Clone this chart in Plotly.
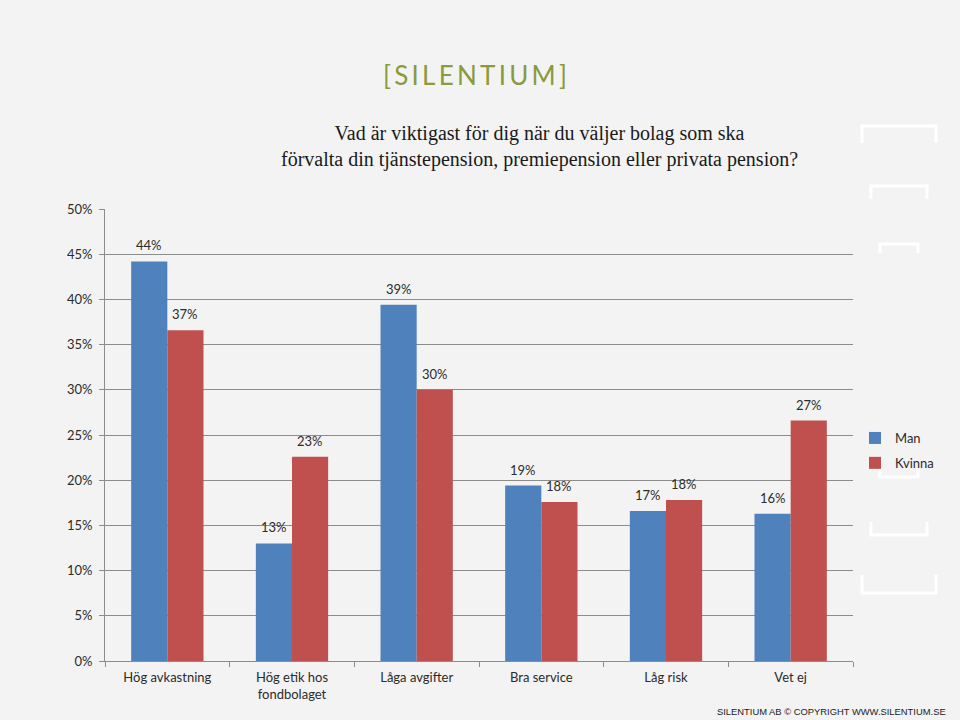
import plotly.graph_objects as go

categories = ["Hög avkastning", "Hög etik hos<br>fondbolaget", "Låga avgifter",
              "Bra service", "Låg risk", "Vet ej"]
man = [0.442, 0.130, 0.394, 0.194, 0.166, 0.163]
kvinna = [0.366, 0.226, 0.300, 0.176, 0.178, 0.266]
series_names = ["Man", "Kvinna"]
y_ticks = [0, 0.05, 0.10, 0.15, 0.20, 0.25, 0.30, 0.35, 0.40, 0.45, 0.50]

W, H = 960, 720
L, R, T, B = 105, 853, 209, 661
BG = "#f3f3f3"
TXT = "#2b2b2b"
GRID = "#8c8c8c"
FONT = "Lato, Open Sans, sans-serif"

fig = go.Figure()
for name, vals, col, grp in [(series_names[0], man, "#4F81BD", "m"),
                             (series_names[1], kvinna, "#C0504D", "k")]:
    fig.add_trace(go.Bar(
        x=categories, y=vals, name=name, legendgroup=grp,
        marker=dict(color=col, line=dict(width=0)),
    ))


def to_paper_x(x):
    return (x - L) / (R - L)


def to_paper_y(y):
    return (B - y) / (B - T)


white = dict(color="white", width=3)


def bracket_p(x0, x1, ybase, yleg):
    return dict(type="path", xref="paper", yref="paper", layer="below",
                path=(f"M {to_paper_x(x0)} {to_paper_y(yleg)} L {to_paper_x(x0)} {to_paper_y(ybase)} "
                      f"L {to_paper_x(x1)} {to_paper_y(ybase)} L {to_paper_x(x1)} {to_paper_y(yleg)}"),
                line=white)


shapes = [
    bracket_p(862, 936, 126, 143),
    bracket_p(871, 927, 186, 199),
    bracket_p(880, 918, 244, 253),
    bracket_p(880, 918, 477, 468),
    bracket_p(871, 927, 535, 522),
    bracket_p(862, 936, 593, 575),
]

annotations = [
    dict(text="[\u2009S\u2009I\u2009L\u2009E\u2009N\u2009T\u2009I\u2009U\u2009M\u2009]",
         xref="paper", yref="paper",
         x=to_paper_x(475), y=to_paper_y(75), xanchor="center", yanchor="middle",
         showarrow=False, font=dict(family="Lato, sans-serif", size=26, color="#8a9a3c")),
    dict(text="Vad är viktigast för dig när du väljer bolag som ska<br>förvalta din tjänstepension, premiepension eller privata pension?",
         xref="paper", yref="paper", x=to_paper_x(539), y=to_paper_y(146),
         xanchor="center", yanchor="middle", showarrow=False, align="center",
         font=dict(family="Liberation Serif, serif", size=20, color="#1a1a1a")),
    dict(text="SILENTIUM AB © COPYRIGHT WWW.SILENTIUM.SE", xref="paper", yref="paper",
         x=to_paper_x(948), y=to_paper_y(711), xanchor="right", yanchor="middle",
         showarrow=False, font=dict(family="Liberation Sans, Arial, sans-serif", size=9.4, color="#222222")),
]

# value labels above each bar
for vals, shift in [(man, -18), (kvinna, 18)]:
    for c, v in zip(categories, vals):
        annotations.append(dict(
            x=c, y=v, xref="x", yref="y", text=f"{round(v * 100)}%",
            showarrow=False, xanchor="center", yanchor="bottom",
            xshift=shift, yshift=6,
            font=dict(family=FONT, size=13, color=TXT),
        ))

fig.update_layout(
    width=W, height=H,
    paper_bgcolor=BG, plot_bgcolor=BG,
    margin=dict(l=L, r=W - R, t=T, b=H - B, pad=0),
    barmode="group", bargap=0.42, bargroupgap=0,
    font=dict(family=FONT, size=13, color=TXT),
    showlegend=True,
    legend=dict(x=to_paper_x(855), y=to_paper_y(423), xanchor="left", yanchor="top",
                bgcolor="rgba(0,0,0,0)", font=dict(size=13, color=TXT),
                itemwidth=30, tracegroupgap=5),
    shapes=shapes,
    annotations=annotations,
)
fig.update_xaxes(
    showline=True, linecolor=GRID, linewidth=1, ticks="outside", tickson="boundaries",
    ticklen=5, tickcolor=GRID, showgrid=False, tickfont=dict(size=13, color=TXT),
    ticklabelstandoff=4,
)
fig.update_yaxes(
    range=[0, 0.5], tickvals=y_ticks, tickformat=".0%", showgrid=True, gridcolor=GRID,
    gridwidth=1, showline=True, linecolor=GRID, ticks="outside", ticklen=5, tickcolor=GRID,
    zeroline=False, tickfont=dict(size=13, color=TXT), ticklabelstandoff=4,
)

fig.write_html("out.html", config={"displayModeBar": False},
               post_script="document.body.style.margin='0';")
